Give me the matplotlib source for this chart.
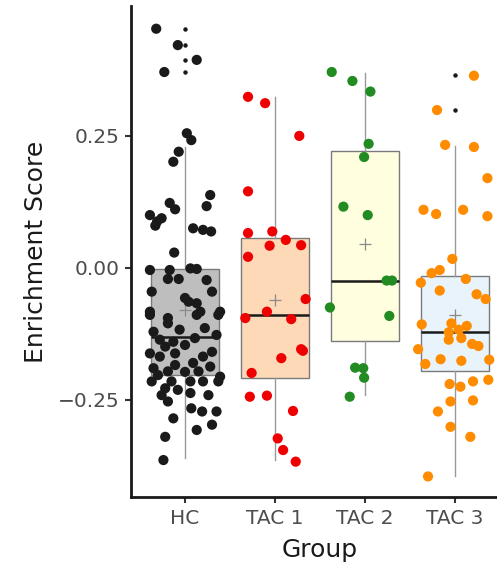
import numpy as np
import matplotlib
matplotlib.use("Agg")
from matplotlib import pyplot as plt

plt.rcParams['font.family'] = ['DejaVu Sans']

groups = ["HC", "TAC 1", "TAC 2", "TAC 3"]
point_colors = ["#1a1a1a", "#ee0000", "#228b22", "#ff8c00"]
box_fills = ["#bebebe", "#fdd9b8", "#ffffe0", "#e8f3fc"]

# box statistics
q1 = [-0.203, -0.209, -0.139, -0.196]
med = [-0.131, -0.089, -0.024, -0.122]
q3 = [-0.002, 0.0565, 0.2216, -0.0152]
whis_lo = [-0.360, -0.364, -0.2405, -0.394]
whis_hi = [0.229, 0.323, 0.370, 0.231]
means = [-0.080, -0.061, 0.045, -0.089]
outliers = [[0.453, 0.422, 0.394, 0.371], [], [], [0.3655, 0.299]]

# jittered points: (offset from group centre, enrichment score)
hc_jit = [-0.32, -0.08, 0.13, -0.23, 0.02, 0.07, -0.07, -0.13, 0.28, 0.24,
          -0.17, -0.11, -0.39, -0.31, -0.26, -0.33, 0.09, 0.20, 0.29, -0.12,
          -0.39, -0.17, 0.06, 0.13, -0.19, -0.07, 0.24, -0.37, 0.30, 0.00,
          0.13, 0.04, -0.39, 0.17, 0.39, -0.19, -0.39, -0.19, 0.13, 0.37,
          -0.35, 0.35, -0.13, 0.11, 0.00, -0.22, -0.39, -0.28, -0.11, 0.20,
          0.30, 0.09, -0.35, -0.19, 0.15, 0.28, 0.39, -0.37, -0.15, 0.06,
          0.20, -0.11, -0.22, -0.26, -0.19, 0.06, 0.07, 0.19, 0.35, 0.30,
          -0.13, 0.13, -0.22, -0.24, 0.37, -0.06, 0.22, -0.28, 0.00, -0.30,
          -0.08, 0.26]
hc_val = [0.453, 0.422, 0.394, 0.371, 0.255, 0.242, 0.220, 0.201, 0.138, 0.117,
          0.123, 0.111, 0.100, 0.088, 0.094, 0.080, 0.075, 0.072, 0.069, 0.029,
          -0.004, -0.004, -0.001, -0.002, -0.021, -0.021, -0.023, -0.045, -0.045, -0.057,
          -0.067, -0.064, -0.083, -0.083, -0.083, -0.095, -0.089, -0.105, -0.089, -0.089,
          -0.121, -0.127, -0.140, -0.133, -0.146, -0.149, -0.162, -0.168, -0.162, -0.168,
          -0.159, -0.180, -0.190, -0.196, -0.196, -0.187, -0.206, -0.215, -0.215, -0.215,
          -0.215, -0.184, -0.228, -0.241, -0.253, -0.237, -0.266, -0.272, -0.272, -0.297,
          -0.285, -0.307, -0.320, -0.364, -0.215, -0.117, -0.114, -0.136, -0.197, -0.203,
          -0.231, -0.241]

tac1_jit = [-0.30, -0.11, 0.27, -0.30, -0.30, -0.03, -0.06, 0.12, 0.29, -0.30,
            0.34, -0.09, -0.33, 0.18, 0.29, 0.31, 0.07, -0.26, -0.28, -0.09,
            0.20, 0.03, 0.09, 0.23]
tac1_val = [0.324, 0.312, 0.250, 0.145, 0.066, 0.069, 0.042, 0.053, 0.043, 0.021,
            -0.059, -0.083, -0.095, -0.097, -0.154, -0.157, -0.171, -0.199, -0.244, -0.242,
            -0.271, -0.323, -0.345, -0.367]

tac2_jit = [-0.37, -0.14, 0.06, 0.04, -0.01, -0.24, 0.03, 0.24, 0.30, -0.39,
            0.27, -0.11, -0.02, -0.01, -0.17]
tac2_val = [0.371, 0.354, 0.334, 0.235, 0.210, 0.116, 0.100, -0.024, -0.024, -0.075,
            -0.091, -0.189, -0.190, -0.208, -0.244]

tac3_jit = [0.21, -0.20, -0.11, 0.21, 0.36, -0.35, -0.21, 0.09, 0.36, -0.03,
            -0.17, -0.26, -0.38, 0.12, -0.17, 0.24, 0.34, -0.37, -0.04, 0.13,
            -0.07, 0.04, -0.07, 0.07, 0.19, 0.26, -0.41, -0.33, -0.16, 0.07,
            0.38, -0.06, 0.06, 0.20, 0.37, -0.05, 0.20, -0.19, -0.05, 0.17,
            -0.30]
tac3_val = [0.364, 0.299, 0.233, 0.229, 0.170, 0.110, 0.102, 0.110, 0.098, 0.017,
            -0.004, -0.010, -0.028, -0.021, -0.043, -0.050, -0.059, -0.107, -0.105, -0.110,
            -0.122, -0.117, -0.136, -0.133, -0.144, -0.148, -0.154, -0.182, -0.173, -0.176,
            -0.174, -0.220, -0.225, -0.215, -0.212, -0.253, -0.251, -0.272, -0.301, -0.320,
            -0.395]

jitters = [hc_jit, tac1_jit, tac2_jit, tac3_jit]
values = [hc_val, tac1_val, tac2_val, tac3_val]

fig = plt.figure(figsize=(4.97, 5.73), dpi=100)
ax = fig.add_axes([0.2636, 0.1326, 0.7606, 0.8569])

stats = []
for i in range(len(groups)):
    stats.append(dict(med=med[i], q1=q1[i], q3=q3[i], whislo=whis_lo[i],
                      whishi=whis_hi[i], fliers=outliers[i], label=groups[i]))

pos = np.arange(1, len(groups) + 1)
bp = ax.bxp(stats, positions=pos, widths=0.75, patch_artist=True,
            showcaps=False, showfliers=True,
            boxprops=dict(edgecolor="#7a7a7a", linewidth=1.0),
            whiskerprops=dict(color="#999999", linewidth=1.0),
            medianprops=dict(color="#1a1a1a", linewidth=1.8),
            flierprops=dict(marker="o", markersize=2.2, markerfacecolor="#1a1a1a",
                            markeredgecolor="#1a1a1a"))
for patch, fc in zip(bp["boxes"], box_fills):
    patch.set_facecolor(fc)
    patch.set_zorder(1)

ax.plot(pos, means, linestyle="none", marker="+", markersize=9,
        markeredgewidth=0.9, color="#8a8a8a", zorder=3)

for i in range(len(groups)):
    x = pos[i] + np.array(jitters[i])
    ax.scatter(x, values[i], s=54, color=point_colors[i], edgecolors="none",
               zorder=4)

ax.set_xlim(0.4, 4.6)
ax.set_ylim(-0.434, 0.496)
ax.set_xticks(pos)
ax.set_xticklabels(groups)
ax.set_yticks([-0.25, 0.0, 0.25])
ax.set_yticklabels(["\u22120.25", "0.00", "0.25"])

for side in ["top", "right"]:
    ax.spines[side].set_visible(False)
for side in ["left", "bottom"]:
    ax.spines[side].set_linewidth(2.0)
    ax.spines[side].set_color("#1a1a1a")
ax.tick_params(axis="both", length=4.5, width=1.5, color="#333333",
               labelcolor="#4d4d4d", labelsize=14.5, pad=4)

ax.set_xlabel("Group", fontsize=18, color="#1a1a1a", labelpad=7)
ax.set_ylabel("Enrichment Score", fontsize=18, color="#1a1a1a", labelpad=7)

fig.savefig("out.png", dpi=100)
